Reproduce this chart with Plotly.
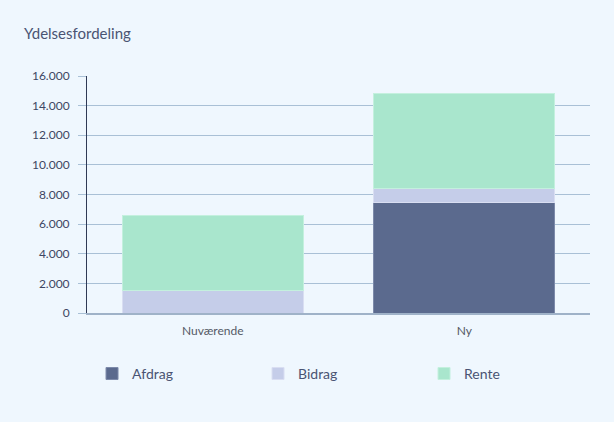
import plotly.graph_objects as go

kategorier = ["Nuværende", "Ny"]
afdrag = [0, 7470]
bidrag = [1500, 950]
rente = [5100, 6410]
y_ticks = [0, 2000, 4000, 6000, 8000, 10000, 12000, 14000, 16000]

farver = {"Afdrag": "#5b6a8e", "Bidrag": "#c5cde9", "Rente": "#a9e6cd"}
kanter = {"Afdrag": "#7d8aaa", "Bidrag": "#d9def2", "Rente": "#c4f0de"}

fig = go.Figure()

for navn, vaerdier in [("Afdrag", afdrag), ("Bidrag", bidrag), ("Rente", rente)]:
    fig.add_trace(go.Bar(
        x=kategorier,
        y=vaerdier,
        name=navn,
        marker=dict(color=farver[navn], line=dict(color=kanter[navn], width=1)),
    ))

fig.update_layout(
    barmode="stack",
    bargap=0.28,
    width=614,
    height=422,
    margin=dict(l=87, r=24, t=76, b=109),
    paper_bgcolor="#eff7fe",
    plot_bgcolor="#eff7fe",
    separators=",.",
    font=dict(family="Lato, 'Open Sans', sans-serif", color="#3d4663"),
    title=dict(
        text="Ydelsesfordeling",
        x=24 / 614, xanchor="left",
        y=1 - 34 / 422, yanchor="middle",
        font=dict(size=15, color="#4a5473"),
    ),
    legend=dict(
        orientation="h",
        traceorder="normal",
        x=0.01, xanchor="left",
        y=-0.257, yanchor="middle",
        entrywidth=121,
        font=dict(size=14, color="#4a5473"),
        bgcolor="rgba(0,0,0,0)",
    ),
    showlegend=True,
)

fig.update_yaxes(
    range=[0, 16000],
    tickvals=y_ticks,
    tickformat=",d",
    showgrid=True,
    gridcolor="#a9c0d6",
    gridwidth=1,
    zeroline=False,
    showline=True,
    linecolor="#2f3955",
    linewidth=1,
    ticks="outside",
    ticklen=8,
    tickcolor="#a9c0d6",
    ticklabelstandoff=6,
    tickfont=dict(size=12, color="#3d4663"),
)

fig.update_xaxes(
    showline=True,
    linecolor="#9fb2c8",
    linewidth=1.5,
    showgrid=False,
    ticks="",
    ticklabelstandoff=6,
    tickfont=dict(size=12, color="#555a66"),
)

fig.write_html(
    "out.html",
    config={"displayModeBar": False},
    post_script="document.body.style.margin='0';",
)
